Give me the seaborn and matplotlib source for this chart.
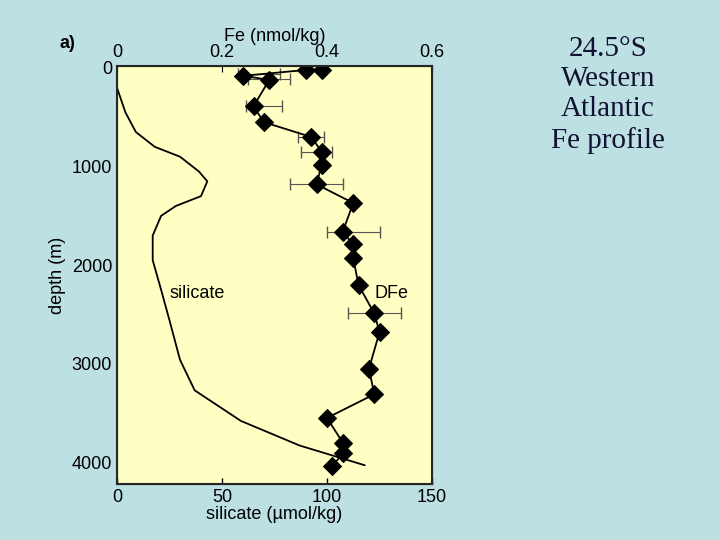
import matplotlib
matplotlib.use("Agg")
import matplotlib.pyplot as plt
import seaborn as sns
import numpy as np
import pandas as pd

fe = [0.39, 0.36, 0.24, 0.29, 0.26, 0.28, 0.37, 0.39, 0.39, 0.38, 0.45, 0.43, 0.45, 0.45, 0.46, 0.49, 0.50, 0.48, 0.49, 0.40, 0.43, 0.43, 0.41]
fe_depth = [20, 20, 80, 120, 390, 550, 700, 850, 980, 1180, 1370, 1660, 1790, 1930, 2200, 2490, 2680, 3050, 3310, 3550, 3800, 3910, 4040]
err_depth = [60, 110, 390, 700, 850, 1180, 1660, 2490]
err_fe = [0.27, 0.29, 0.28, 0.37, 0.38, 0.38, 0.45, 0.49]
err_half = [0.04, 0.04, 0.035, 0.025, 0.03, 0.05, 0.05, 0.05]
si_depth = [200, 450, 650, 800, 900, 1050, 1150, 1300, 1400, 1500, 1700, 1950, 2250, 2560, 2960, 3270, 3580, 3830, 4030]
si = [0, 4, 9, 18, 30, 39, 43, 40, 28, 21, 17, 17, 21, 25, 30, 37, 59, 87, 118]

sns.set_style("white")
plt.rcParams["font.family"] = ["Liberation Sans", "DejaVu Sans"]
plt.rcParams["text.color"] = "black"
plt.rcParams["axes.labelcolor"] = "black"
plt.rcParams["xtick.color"] = "black"
plt.rcParams["ytick.color"] = "black"
fig = plt.figure(figsize=(7.2, 5.4), dpi=100, facecolor="#bde0e3")
ax = fig.add_axes([117/720, 1-484/540, 315/720, 418/540], facecolor="#ffffc4")
sns.lineplot(x=si, y=si_depth, sort=False, estimator=None, color="black", lw=1.3, ax=ax)
ax.set_xlim(0, 150)
ax.set_ylim(4220, -20)
ax.set_xticks([0, 50, 100, 150])
ax.set_yticks([0, 1000, 2000, 3000, 4000])
ax.set_xlabel("silicate (\u00b5mol/kg)", fontsize=13, labelpad=0)
ax.set_ylabel("depth (m)", fontsize=13)
ax.tick_params(labelsize=13, direction="in", length=4, width=1)
for s in ax.spines.values():
    s.set_linewidth(1.5)
ax.text(25, 2330, "silicate", fontsize=13)
ax2 = ax.twiny()
ax2.set_xlim(0, 0.6)
ax2.set_xticks([0, 0.2, 0.4, 0.6])
ax2.set_xticklabels(["0", "0.2", "0.4", "0.6"])
ax2.tick_params(labelsize=13, direction="in", length=4)
ax2.set_xlabel("Fe (nmol/kg)", fontsize=13, labelpad=2)
ax2.errorbar(err_fe, err_depth, xerr=err_half, fmt="none", ecolor="#555555", capsize=4, lw=0.8)
sns.lineplot(x=fe, y=fe_depth, sort=False, estimator=None, color="black", lw=1.3, marker="D", markersize=9, markeredgecolor="black", ax=ax2)
ax2.set_ylim(4220, -20)
ax2.text(0.49, 2330, "DFe", fontsize=13)
fig.text(60/720, 1-48/540, "a)", fontsize=13, fontweight="bold")
fig.text(608/720, 1-95/540, "24.5\u00b0S\nWestern\nAtlantic\nFe profile", fontsize=21, family="Liberation Serif", ha="center", va="center", color="#111133", linespacing=1.2)
fig.savefig("out.png", dpi=100, facecolor=fig.get_facecolor())
